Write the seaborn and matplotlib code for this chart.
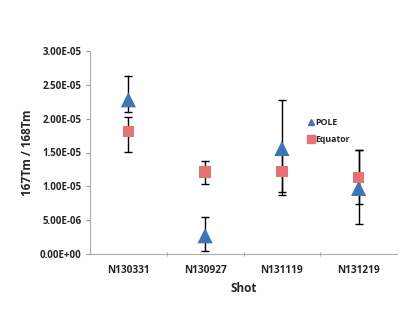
import numpy as np
import pandas as pd
import seaborn as sns
import matplotlib.pyplot as plt
from matplotlib.lines import Line2D

# data
shots = ["N130331", "N130927", "N131119", "N131219"]
pole = [2.28e-5, 0.27e-5, 1.56e-5, 0.97e-5]
pole_lo = [0.18e-5, 0.23e-5, 0.69e-5, 0.53e-5]
pole_hi = [0.35e-5, 0.27e-5, 0.72e-5, 0.57e-5]
equator = [1.81e-5, 1.21e-5, 1.22e-5, 1.13e-5]
eq_lo = [0.30e-5, 0.17e-5, 0.30e-5, 0.39e-5]
eq_hi = [0.21e-5, 0.17e-5, 0.30e-5, 0.41e-5]

df = pd.DataFrame({
    "Shot": shots * 2,
    "ratio": pole + equator,
    "series": ["POLE"] * 4 + ["Equator"] * 4,
})

sns.set_style("white")
plt.rcParams["font.family"] = ["Open Sans", "DejaVu Sans"]

fig = plt.figure(figsize=(4.15, 3.21), dpi=100)
ax = fig.add_axes([90 / 415, 1 - 254 / 321, 307 / 415, 203 / 321])

x = np.arange(len(shots))
ax.errorbar(x, pole, yerr=[pole_lo, pole_hi], fmt="none", ecolor="black",
            elinewidth=1, capsize=3, capthick=1, zorder=1)
ax.errorbar(x, equator, yerr=[eq_lo, eq_hi], fmt="none", ecolor="black",
            elinewidth=1, capsize=3, capthick=1, zorder=1)

sns.scatterplot(data=df, x="Shot", y="ratio", hue="series", style="series",
                markers={"POLE": "^", "Equator": "s"},
                palette={"POLE": "#3f75b3", "Equator": "#e57373"},
                size="series", sizes={"POLE": 120, "Equator": 70},
                edgecolor="none", ax=ax, zorder=3, legend=False)

ax.set_xlim(-0.5, 3.5)
ax.set_ylim(0, 3.0e-5)
ax.set_yticks(np.arange(0, 3.01e-5, 0.5e-5))
ax.set_yticklabels(["0.00E+00", "5.00E-06", "1.00E-05", "1.50E-05",
                    "2.00E-05", "2.50E-05", "3.00E-05"],
                   fontsize=7, fontweight="bold")
ax.set_xticks(x)
ax.set_xticklabels(shots, fontsize=7.3, fontweight="bold")
ax.set_xticks([0.5, 1.5, 2.5], minor=True)
ax.tick_params(axis="x", which="major", length=0, pad=8)
ax.tick_params(axis="x", which="minor", length=3, direction="inout", color="#999999")
ax.tick_params(axis="y", length=3, direction="out", color="#999999", pad=3)
ax.yaxis.set_ticks_position("left")
ax.xaxis.set_ticks_position("bottom")

for s in ["top", "right"]:
    ax.spines[s].set_visible(False)
for s in ["left", "bottom"]:
    ax.spines[s].set_color("#aaaaaa")
    ax.spines[s].set_linewidth(0.8)

ax.set_xlabel("Shot", fontsize=8.5, fontweight="bold", labelpad=4)
ax.set_ylabel("167Tm / 168Tm", fontsize=8.5, fontweight="bold", labelpad=4)

handles = [
    Line2D([], [], marker="^", color="#3f75b3", linestyle="none", markersize=4),
    Line2D([], [], marker="s", color="#e57373", linestyle="none", markersize=5.5),
]
ax.legend(handles, ["POLE", "Equator"], loc="upper left",
          bbox_to_anchor=(0.68, 0.71), frameon=False, handletextpad=0.0,
          handlelength=1.0, labelspacing=0.9,
          prop={"size": 6.3, "weight": "bold"})

fig.savefig("out.png", dpi=100)
